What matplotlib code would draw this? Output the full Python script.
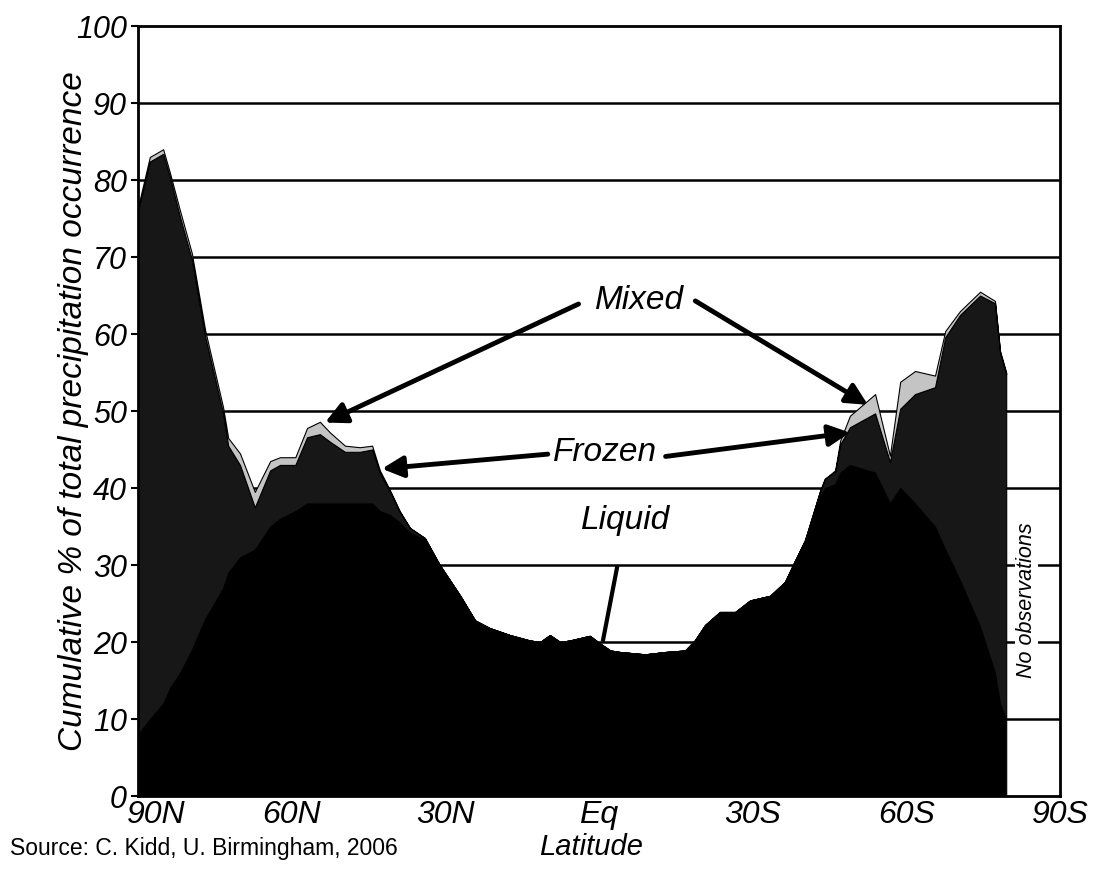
import numpy as np
import matplotlib
matplotlib.use('Agg')
import matplotlib.pyplot as plt
import matplotlib.transforms as mtransforms

plt.rcParams['font.family'] = ['Liberation Sans', 'DejaVu Sans']

# 위도 (N +, S -) 와 각 층의 값 (누적 면적)
lat = [90.0, 87.7, 85.1, 83.8, 81.8, 79.5, 76.9, 73.4, 72.4, 70.1,
       67.2, 64.2, 62.3, 59.3, 57.0, 54.5, 52.5, 49.6, 46.7, 44.3,
       42.8, 40.8, 38.9, 36.9, 34.0, 31.1, 27.1, 24.2, 21.3, 17.4,
       13.5, 11.5, 9.6, 7.6, 5.7, 1.8, -0.2, -2.2, -4.1, -9.0,
       -12.9, -16.8, -18.7, -20.7, -23.6, -26.6, -29.5, -33.4, -36.3, -38.3,
       -40.2, -43.2, -44.1, -46.1, -47.1, -49.0, -53.9, -56.8, -58.8, -61.7,
       -65.6, -67.6, -70.5, -74.4, -77.3, -78.3, -79.5]

liquid = [8, 10, 12, 14, 16, 19, 23, 27, 29, 31,
          32, 35, 36, 37, 38, 38, 38, 38, 38, 38,
          37, 36.5, 35.5, 34.2, 33.3, 30.0, 26.0, 22.8, 21.8, 20.9,
          20.2, 20.0, 20.9, 20.0, 20.2, 20.8, 19.8, 18.9, 18.7, 18.4,
          18.7, 18.9, 20.2, 22.2, 23.9, 23.9, 25.4, 26.0, 27.8, 30.6,
          33.2, 39, 40, 40.5, 42, 43, 42, 38, 40, 38,
          35, 32, 28, 22, 16, 12, 10]

frozen = [68.0, 72.4, 71.4, 66.4, 59.2, 50.7, 36.7, 22.7, 16.5, 12.0,
          5.5, 7.3, 7.0, 6.0, 8.6, 9.0, 8.0, 6.7, 6.7, 7.0,
          5.0, 3.0, 1.4, 0.6, 0.2, 0, 0, 0, 0, 0,
          0, 0, 0, 0, 0, 0, 0, 0, 0, 0,
          0, 0, 0, 0, 0, 0, 0, 0, 0, 0,
          0, 0.7, 1.2, 1.6, 3.7, 4.9, 7.7, 5.4, 10.3, 14.2,
          18.1, 27.6, 34.5, 43.0, 48.0, 45.6, 44.8]

mixed = [0.5, 0.6, 0.6, 0.6, 0.8, 0.8, 0.8, 0.8, 1.0, 1.5,
         2.0, 1.2, 1.0, 1.0, 1.2, 1.6, 1.2, 0.8, 0.6, 0.5,
         0.3, 0.2, 0.1, 0, 0, 0, 0, 0, 0, 0,
         0, 0, 0, 0, 0, 0, 0, 0, 0, 0,
         0, 0, 0, 0, 0, 0, 0, 0, 0, 0,
         0, 0, 0, 0.2, 0.5, 1.5, 2.5, 0.8, 3.5, 3.0,
         1.5, 0.8, 0.5, 0.5, 0.3, 0.2, 0.2]

xtick_labels = ['90N', '60N', '30N', 'Eq', '30S', '60S', '90S']
ytick_values = [0, 10, 20, 30, 40, 50, 60, 70, 80, 90, 100]

# 90N 에서의 거리 (도)
pos = 90 - np.array(lat)

fig = plt.figure(figsize=(10.93, 8.71), dpi=100)
ax = fig.add_axes([0.1263, 0.0861, 0.8435, 0.884])

for v in ytick_values[1:-1]:
    ax.axhline(v, color='black', lw=1.8, zorder=1)

ax.stackplot(pos, liquid, frozen, mixed,
             colors=['#000000', '#171717', '#c4c4c4'],
             edgecolor='black', linewidth=0.8, zorder=2)

ax.set_xlim(0, 180)
ax.set_ylim(0, 100)
ax.set_xticks(np.arange(0, 181, 30))
ax.set_xticklabels(xtick_labels, fontsize=23, style='italic')
ax.set_yticks(ytick_values)
ax.set_yticklabels([str(v) for v in ytick_values], fontsize=22, style='italic')
ax.tick_params(axis='x', length=0, pad=3)
ax.tick_params(axis='y', length=5, width=1.5, direction='out', pad=3)
for s in ax.spines.values():
    s.set_linewidth(2)
    s.set_zorder(5)

# 첫번째 x 라벨을 오른쪽으로 이동 ("0" 과 겹치지 않게)
xl = ax.get_xticklabels()
xl[0].set_transform(xl[0].get_transform() +
                    mtransforms.ScaledTranslation(0.18, 0, fig.dpi_scale_trans))

ax.set_ylabel('Cumulative % of total precipitation occurrence',
              fontsize=24, style='italic')
ax.yaxis.set_label_coords(-0.053, 0.5)
fig.text(0.541, 0.018, 'Latitude', fontsize=21, style='italic', ha='center')
fig.text(0.009, 0.018, 'Source: C. Kidd, U. Birmingham, 2006', fontsize=16.5)

arrow = dict(arrowstyle='-|>', lw=3.5, color='black', mutation_scale=32,
             shrinkA=0, shrinkB=0)
ax.text(98, 64.3, 'Mixed', fontsize=24, style='italic', ha='center', va='center')
ax.annotate('', xy=(36.5, 48.5), xytext=(86.0, 63.9), arrowprops=arrow)
ax.annotate('', xy=(142.5, 50.8), xytext=(108.8, 64.3), arrowprops=arrow)

ax.text(91.2, 44.6, 'Frozen', fontsize=24, style='italic', ha='center', va='center')
ax.annotate('', xy=(47.6, 42.5), xytext=(80.0, 44.4), arrowprops=arrow)
ax.annotate('', xy=(139.0, 47.2), xytext=(103.0, 44.1), arrowprops=arrow)

ax.text(95.1, 35.8, 'Liquid', fontsize=24, style='italic', ha='center', va='center')
ax.plot([93.5, 90.8], [29.6, 20.3], color='black', lw=3, zorder=4)

ax.text(173.5, 25.4, 'No observations', fontsize=15.5, style='italic',
        rotation=90, ha='center', va='center',
        bbox=dict(facecolor='white', edgecolor='none', pad=1), zorder=3)

fig.savefig('out.png', dpi=100)
